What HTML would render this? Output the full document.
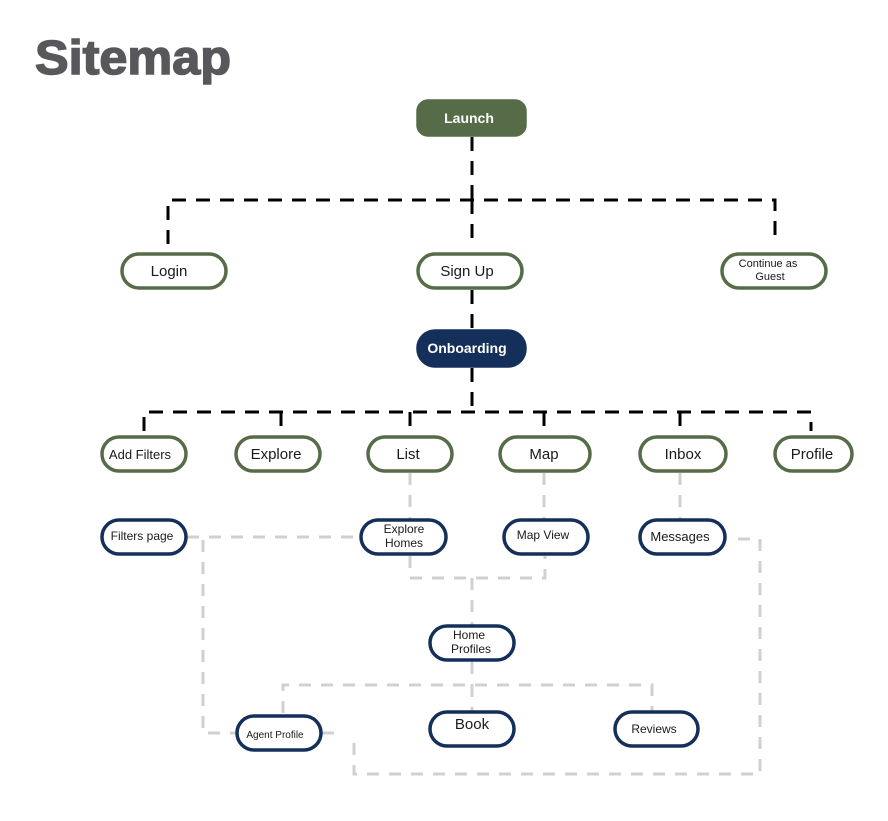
<!DOCTYPE html>
<html><head><meta charset="utf-8"><style>
html,body{margin:0;padding:0;background:#fff;}
svg{display:block;}
text{font-family:"Liberation Sans",Arial,sans-serif;}
</style></head><body>
<svg width="888" height="821" viewBox="0 0 888 821" xmlns="http://www.w3.org/2000/svg">
<text x="35" y="74" font-size="48" font-weight="bold" fill="#58585c" stroke="#58585c" stroke-width="1.5" textLength="196" lengthAdjust="spacingAndGlyphs">Sitemap</text>

<g stroke="#000" stroke-width="3" fill="none" stroke-dasharray="14,10">
<path d="M472 137 V200"/>
<path d="M168 244 V200 H775 V245"/>
<path d="M472 200 V244"/>
<path d="M472 290 V330"/>
<path d="M472 368 V412"/>
<path d="M144 431 V412 H811 V431"/>
<path d="M281 412 V431"/><path d="M410 412 V431"/><path d="M544 412 V431"/><path d="M680 412 V431"/>
</g>

<g stroke="#d0d0d0" stroke-width="3" fill="none" stroke-dasharray="12,10">
<path d="M410 473 V520"/>
<path d="M544 473 V520"/>
<path d="M680 473 V520"/>
<path d="M410 556 V578 H545 V556"/>
<path d="M472 578 V625"/>
<path d="M472 662 V685"/>
<path d="M283 713 V685 H652 V711"/>
<path d="M472 685 V711"/>
<path d="M187 537 H360"/>
<path d="M203 540 V733 H237"/>
<path d="M322 733 H340"/>
<path d="M354 743 V774 H760 V539 H730"/>
</g>

<g stroke-width="3.5">
<rect x="418" y="101" width="107" height="34" rx="10" fill="#566b47" stroke="#566b47"/>
<rect x="418" y="331" width="107" height="35" rx="17" fill="#14305a" stroke="#14305a"/>
</g>
<g fill="#fff" stroke="#566b47" stroke-width="3.5">
<rect x="122" y="254" width="104" height="34" rx="17"/>
<rect x="418" y="254" width="104" height="34" rx="17"/>
<rect x="722" y="254" width="104" height="34" rx="17"/>
<rect x="102" y="437" width="84" height="34" rx="17"/>
<rect x="236" y="437" width="84" height="34" rx="17"/>
<rect x="368" y="437" width="84" height="34" rx="17"/>
<rect x="500" y="437" width="90" height="34" rx="17"/>
<rect x="640" y="437" width="86" height="34" rx="17"/>
<rect x="775" y="437" width="77" height="34" rx="17"/>
</g>
<g fill="#fff" stroke="#14305a" stroke-width="3.5">
<rect x="102" y="520" width="84" height="34" rx="17"/>
<rect x="361" y="520" width="85" height="34" rx="17"/>
<rect x="504" y="520" width="84" height="34" rx="17"/>
<rect x="640" y="520" width="85" height="34" rx="17"/>
<rect x="430" y="626" width="84" height="34" rx="17"/>
<rect x="237" y="716" width="84" height="34" rx="17"/>
<rect x="430" y="712" width="84" height="34" rx="17"/>
<rect x="615" y="712" width="83" height="34" rx="17"/>
</g>

<g text-anchor="middle" fill="#1a1a1a">
<text x="469" y="123" font-size="14" font-weight="bold" fill="#fff">Launch</text>
<text x="467" y="353" font-size="14" font-weight="bold" fill="#fff">Onboarding</text>
<text x="169" y="276" font-size="15">Login</text>
<text x="467" y="276" font-size="15">Sign Up</text>
<text x="768" y="267" font-size="11">Continue as</text>
<text x="770" y="280" font-size="11">Guest</text>
<text x="140" y="459" font-size="13">Add Filters</text>
<text x="276" y="459" font-size="15">Explore</text>
<text x="408" y="459" font-size="15">List</text>
<text x="544" y="459" font-size="15">Map</text>
<text x="683" y="459" font-size="15">Inbox</text>
<text x="812" y="459" font-size="15">Profile</text>
<text x="142" y="540" font-size="12">Filters page</text>
<text x="404" y="533" font-size="12">Explore</text>
<text x="404" y="547" font-size="12">Homes</text>
<text x="543" y="539" font-size="12">Map View</text>
<text x="680" y="541" font-size="13">Messages</text>
<text x="469" y="639" font-size="12">Home</text>
<text x="471" y="653" font-size="12">Profiles</text>
<text x="275" y="738" font-size="10">Agent Profile</text>
<text x="472" y="729" font-size="15">Book</text>
<text x="654" y="733" font-size="12">Reviews</text>
</g>
</svg>
</body></html>
